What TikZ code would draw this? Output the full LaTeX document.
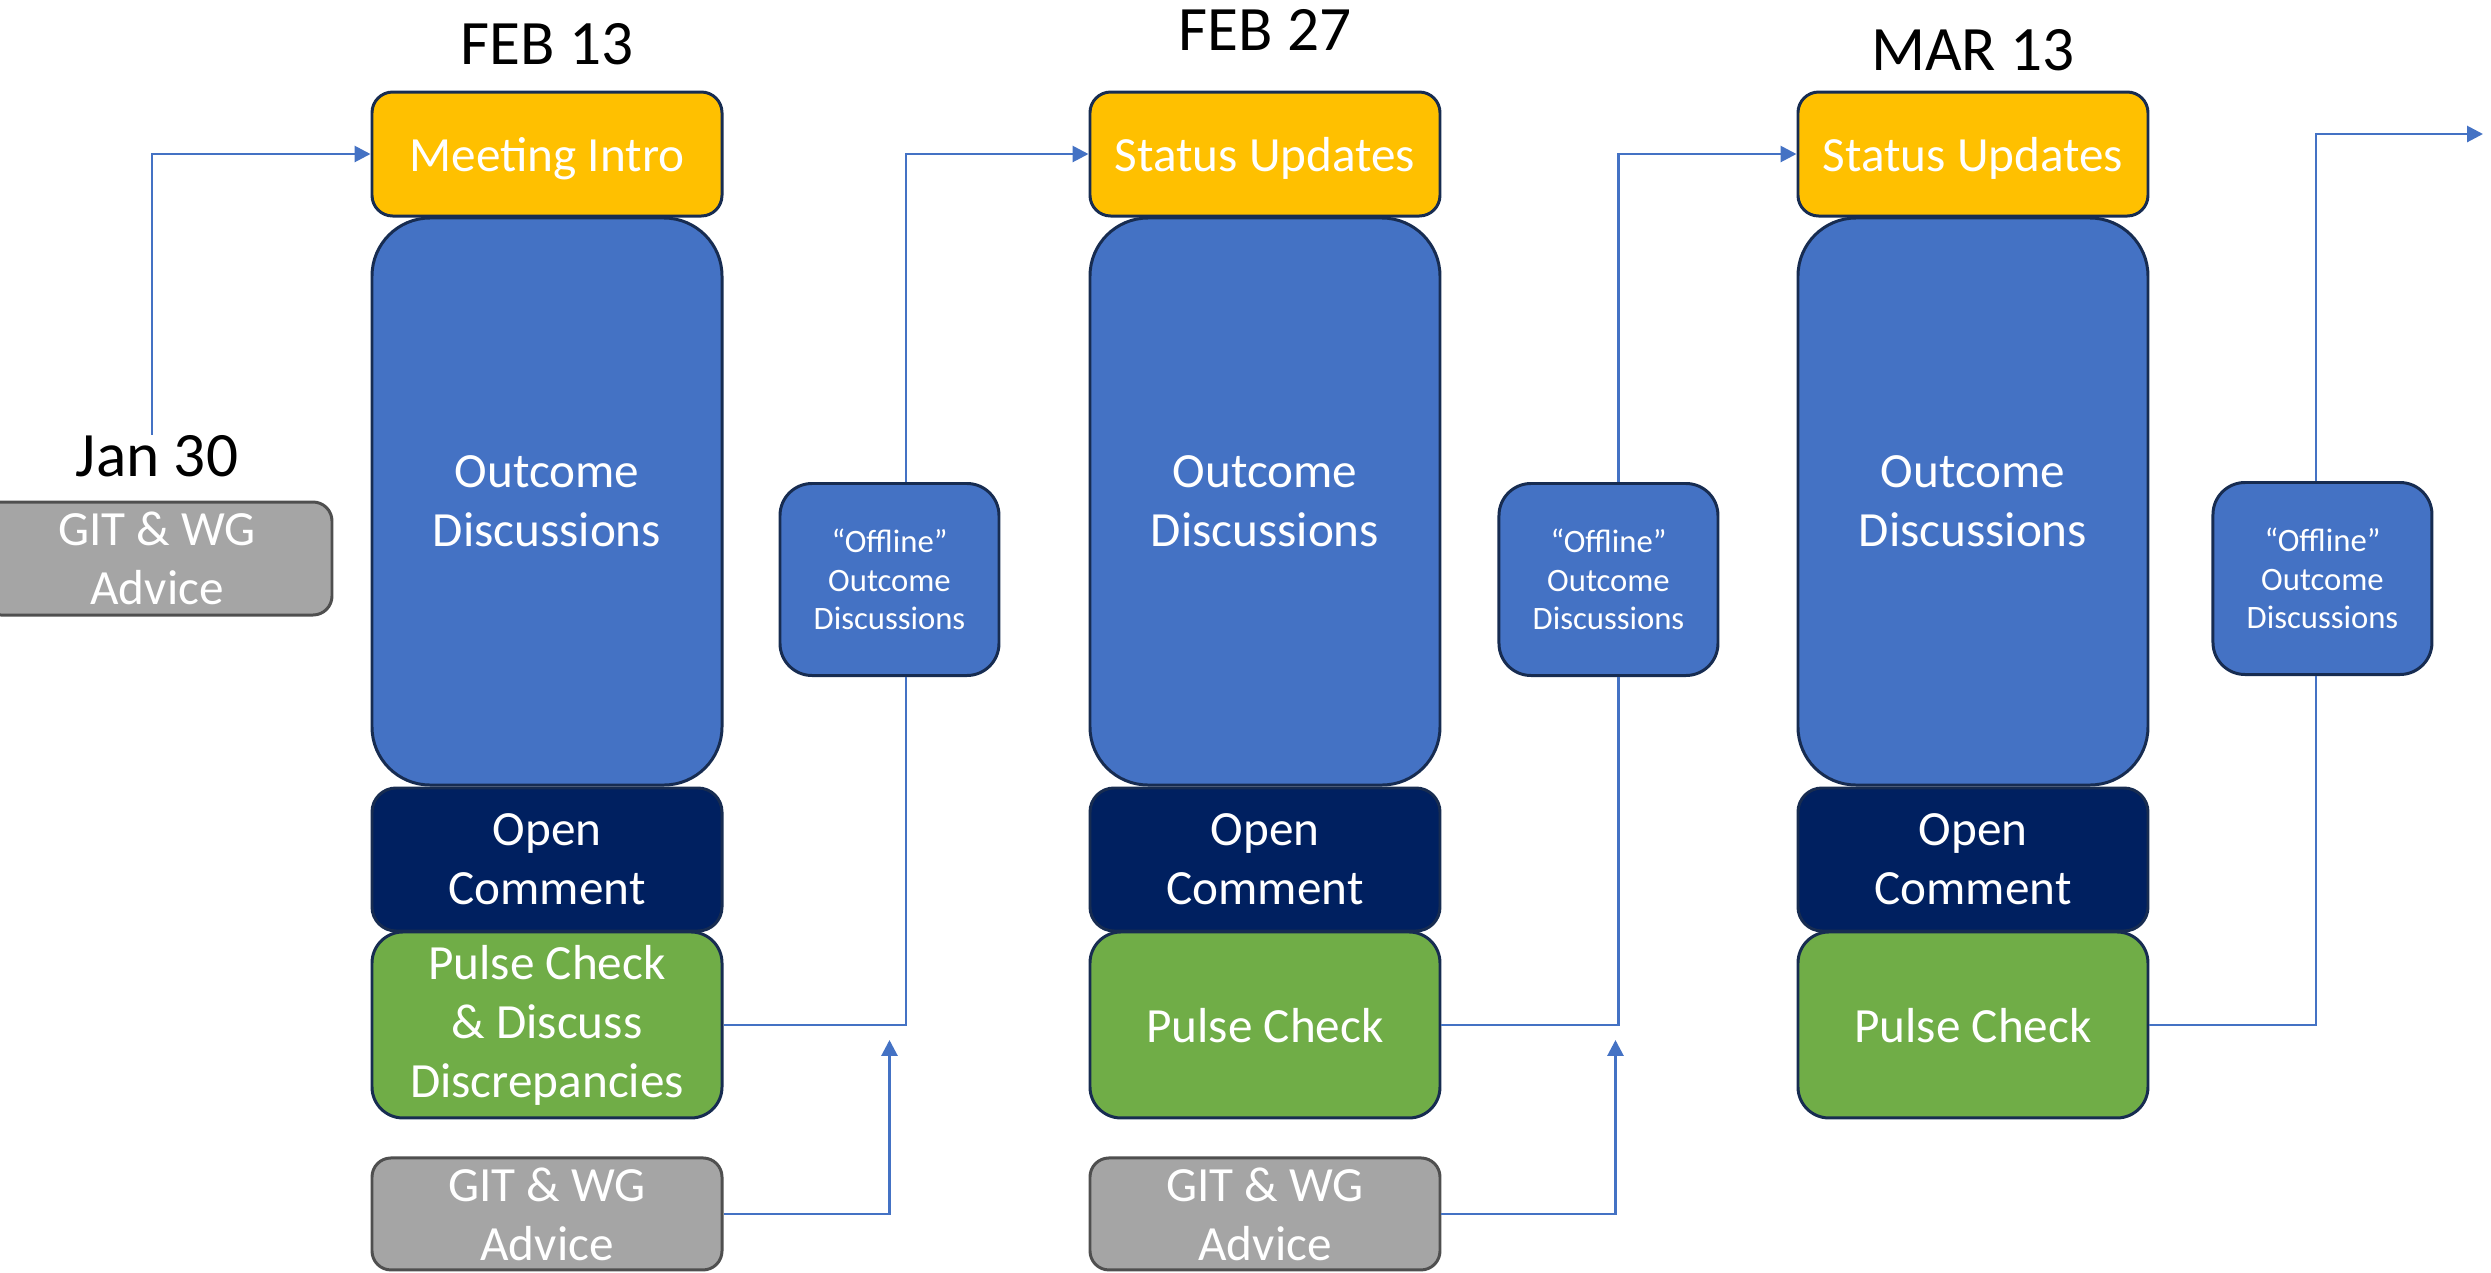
\documentclass[tikz,border=0pt]{standalone}
\usepackage{fontspec}
\setmainfont{Carlito}
\usetikzlibrary{positioning,arrows.meta,calc}

\definecolor{introyellow}{HTML}{FFC000}
\definecolor{outblue}{HTML}{4472C4}
\definecolor{opennavy}{HTML}{002060}
\definecolor{pulsegreen}{HTML}{70AD47}
\definecolor{advicegrey}{HTML}{A5A5A5}
\definecolor{adviceline}{HTML}{4F4F4F}
\definecolor{boxline}{HTML}{172C51}
\definecolor{linkblue}{HTML}{4472C4}

\begin{document}
\begin{tikzpicture}[node distance=2mm,font=\fontsize{14}{16.8}\selectfont]

    \tikzset{box/.style={draw=boxline,line width=0.85pt,rounded corners=#1,
        minimum width=3.5cm,text=white,align=center,inner sep=2pt},
      oneline/.style={text height=13pt,text depth=3pt},
      advice/.style={box=0.19cm,draw=adviceline,fill=advicegrey,minimum height=1.12cm},
      offline/.style={box=0.32cm,fill=outblue,minimum width=2.19cm,minimum height=1.92cm,
        font=\fontsize{9.3}{10.9}\selectfont},
      date/.style={inner sep=0pt,font=\fontsize{18}{21.6}\selectfont},
      flow/.style={draw=linkblue,line width=0.8pt},
      tip/.style={-{Triangle[length=4.5pt,width=4.5pt]}}}

    \useasboundingbox (0,0) rectangle (24.91,-12.72);

    % first meeting
    \node[box=0.207cm,oneline,fill=introyellow,minimum height=1.24cm] (intro1) at (5.47,-1.54) {Meeting Intro};
    \node[box=0.58cm,fill=outblue,minimum height=5.67cm] (out1) [below=-0.01cm of intro1] {Outcome\\Discussions};
    \node[box=0.24cm,fill=opennavy,minimum height=1.43cm] (open1) [below=0cm of out1] {Open\\Comment};
    \node[box=0.31cm,fill=pulsegreen,minimum height=1.86cm] (pulse1) [below=-0.02cm of open1] {Pulse Check\\\& Discuss\\Discrepancies};
    \node[advice] (git1) [below=0.37cm of pulse1] {GIT \& WG\\Advice};
    \node[date] (d1) [above=0.25cm of intro1] {FEB 13};

    % second meeting
    \node[box=0.207cm,oneline,fill=introyellow,minimum height=1.24cm] (intro2) [right=3.65cm of intro1] {Status Updates};
    \node[box=0.58cm,fill=outblue,minimum height=5.67cm] (out2) [below=-0.01cm of intro2] {Outcome\\Discussions};
    \node[box=0.24cm,fill=opennavy,minimum height=1.43cm] (open2) [below=0cm of out2] {Open\\Comment};
    \node[box=0.31cm,oneline,fill=pulsegreen,minimum height=1.86cm] (pulse2) [below=-0.02cm of open2] {Pulse Check};
    \node[advice] (git2) [below=0.37cm of pulse2] {GIT \& WG\\Advice};
    \node[date] (d2) [above=0.39cm of intro2] {FEB 27};

    % third meeting
    \node[box=0.207cm,oneline,fill=introyellow,minimum height=1.24cm] (intro3) [right=3.55cm of intro2] {Status Updates};
    \node[box=0.58cm,fill=outblue,minimum height=5.67cm] (out3) [below=-0.01cm of intro3] {Outcome\\Discussions};
    \node[box=0.24cm,fill=opennavy,minimum height=1.43cm] (open3) [below=0cm of out3] {Open\\Comment};
    \node[box=0.31cm,oneline,fill=pulsegreen,minimum height=1.86cm] (pulse3) [below=-0.02cm of open3] {Pulse Check};
    \node[date] (d3) [above=0.19cm of intro3] {MAR 13};

    % before and between
    \node[advice,minimum height=1.13cm] (jan) at (1.57,-5.585) {GIT \& WG\\Advice};
    \node[date] (d0) [above=0.23cm of jan] {Jan 30};
    \node[offline] (off1) [right=0.55cm of out1,yshift=-0.78cm] {“Offline”\\Outcome\\Discussions};
    \node[offline] (off2) [right=0.56cm of out2,yshift=-0.78cm] {“Offline”\\Outcome\\Discussions};
    \node[offline] (off3) [right=0.62cm of out3,yshift=-0.77cm] {“Offline”\\Outcome\\Discussions};
    \coordinate (next) at (24.83,-1.34);

    \draw[flow,tip] ([xshift=-0.05cm]d0.north) |- (intro1.west);

    \draw[flow] (pulse1.east) -| ([xshift=0.165cm]off1.south);
    \draw[flow,tip] ([xshift=0.165cm]off1.north) |- (intro2.west);
    \draw[flow,tip] (git1.east) -| ($(off1.south |- pulse1.east)+(0,-0.15)$);

    \draw[flow] (pulse2.east) -| ([xshift=0.1cm]off2.south);
    \draw[flow,tip] ([xshift=0.1cm]off2.north) |- (intro3.west);
    \draw[flow,tip] (git2.east) -| ($(off2.south |- pulse2.east)+(0.07,-0.15)$);

    \draw[flow] (pulse3.east) -| ([xshift=-0.065cm]off3.south);
    \draw[flow,tip] ([xshift=-0.065cm]off3.north) |- (next);
  \end{tikzpicture}
\end{document}
